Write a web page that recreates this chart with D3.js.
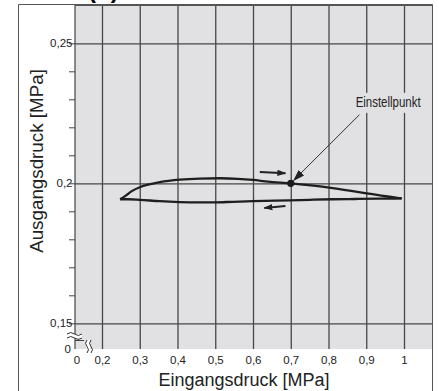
<!DOCTYPE html>
<html><head><meta charset="utf-8">
<script src="https://cdn.jsdelivr.net/npm/d3@7"></script>
<style>
html,body{margin:0;padding:0;background:#fff;}
svg{display:block;font-family:"Liberation Sans",Arial,sans-serif;}
</style></head>
<body>
<svg id="c" width="439" height="391"></svg>
<script>
// ---- data ----
const xTicks = [0.2,0.3,0.4,0.5,0.6,0.7,0.8,0.9,1.0];
const xTickLabels = ["0,2","0,3","0,4","0,5","0,6","0,7","0,8","0,9","1"];
const yTicks = [0.15,0.2,0.25];
const yTickLabels = ["0,15","0,2","0,25"];
const yMinorTicks = [0.15,0.16,0.17,0.18,0.19,0.20,0.21,0.22,0.23,0.24,0.25];
// rising input (upper branch)
const upIn  = [0.248,0.262,0.280,0.300,0.325,0.353,0.406,0.459,0.512,0.560,0.600,0.640,0.700,0.760,0.811,0.860,0.901,0.962,0.994];
const upOut = [0.1943,0.1955,0.1973,0.1986,0.1996,0.2004,0.2013,0.2017,0.2018,0.2016,0.2012,0.2006,0.2000,0.1992,0.1983,0.1973,0.1964,0.1952,0.1946];
// falling input (lower branch), listed by ascending input
const downIn  = [0.248,0.270,0.300,0.353,0.406,0.459,0.500,0.547,0.600,0.697,0.750,0.811,0.870,0.935,0.994];
const downOut = [0.1943,0.1943,0.1941,0.1936,0.1933,0.1932,0.1932,0.1934,0.1936,0.1939,0.1941,0.1943,0.1944,0.1945,0.1946];
const setPoint = {x:0.7, y:0.2, label:"Einstellpunkt"};
const xTitle = "Eingangsdruck [MPa]";
const yTitle = "Ausgangsdruck [MPa]";

// ---- layout ----
const svg = d3.select("#c");
const x = d3.scaleLinear().domain([0.2,1.0]).range([102,404]);
const y = d3.scaleLinear().domain([0.15,0.25]).range([323.3,43.3]);
const L=75, R=432, T=5, B=349;
const gridCol="#474747";

const defs = svg.append("defs");
defs.append("marker").attr("id","ah").attr("viewBox","0 0 10 10")
  .attr("refX",9).attr("refY",5).attr("markerWidth",9).attr("markerHeight",9)
  .attr("markerUnits","userSpaceOnUse").attr("orient","auto")
  .append("path").attr("d","M0,1.5 L10,5 L0,8.5 Z").attr("fill","#222");
defs.append("marker").attr("id","ah2").attr("viewBox","0 0 10 10")
  .attr("refX",9).attr("refY",5).attr("markerWidth",12).attr("markerHeight",12)
  .attr("markerUnits","userSpaceOnUse").attr("orient","auto")
  .append("path").attr("d","M0,1.8 L10,5 L0,8.2 Z").attr("fill","#222");

// title (cut off at top, as in the reference)
svg.append("text").attr("x",88).attr("y",-2).attr("font-size",24).attr("font-weight","bold").text("(b)");

// outer frame
svg.append("path").attr("d",`M18.5,391 V4.5 H432.5 V391`).attr("fill","none").attr("stroke","#555").attr("stroke-width",1);

// plot background
svg.append("rect").attr("x",L).attr("y",T).attr("width",R-L).attr("height",B-T).attr("fill","#e1e1e3");

// vertical grid via bottom axis
const gx = svg.append("g").attr("transform",`translate(0,${B})`)
  .call(d3.axisBottom(x).tickValues(xTicks).tickSize(-(B-T)).tickFormat((d,i)=>xTickLabels[i]));
gx.select(".domain").remove();
gx.selectAll("line").attr("stroke",gridCol).attr("stroke-width",1.3);
gx.selectAll("text").attr("font-size",11.5).attr("fill","#222").attr("dy",0).attr("y",14.5)
  .attr("font-family","'Liberation Sans',Arial,sans-serif");

// horizontal grid via left axis
const gy = svg.append("g").attr("transform",`translate(${L},0)`)
  .call(d3.axisLeft(y).tickValues(yTicks).tickSize(-(R-L)).tickFormat((d,i)=>yTickLabels[i]));
gy.select(".domain").remove();
gy.selectAll("line").attr("stroke",gridCol).attr("stroke-width",1.3);
gy.selectAll("text").attr("font-size",11.5).attr("fill","#222").attr("x",-2.5)
  .attr("font-family","'Liberation Sans',Arial,sans-serif");

// minor ticks outside left
const gm = svg.append("g").attr("transform",`translate(${L},0)`)
  .call(d3.axisLeft(y).tickValues(yMinorTicks).tickSize(6).tickFormat(""));
gm.select(".domain").remove();
gm.selectAll("line").attr("stroke","#444").attr("stroke-width",1);

// left axis line & top
svg.append("line").attr("x1",L).attr("x2",L).attr("y1",T).attr("y2",340).attr("stroke","#444").attr("stroke-width",1.2);
svg.append("line").attr("x1",L).attr("x2",R).attr("y1",T+0.5).attr("y2",T+0.5).attr("stroke","#555").attr("stroke-width",1.2);

// axis breaks
const wv = (x0,y0,w)=>`M${x0},${y0} q${w/4},-3 ${w/2},0 t${w/2},0`;
const br = svg.append("g");
br.append("rect").attr("x",67).attr("y",334).attr("width",15).attr("height",4).attr("fill","#fff");
br.append("path").attr("d",wv(67,334,15)).attr("fill","none").attr("stroke","#333").attr("stroke-width",1);
br.append("path").attr("d",wv(67,338,15)).attr("fill","none").attr("stroke","#333").attr("stroke-width",1);
br.append("line").attr("x1",L).attr("x2",L).attr("y1",340).attr("y2",349).attr("stroke","#444").attr("stroke-width",1.2);
br.append("line").attr("x1",L).attr("x2",84).attr("y1",340.5).attr("y2",340.5).attr("stroke","#444").attr("stroke-width",1);
const wvv = (x0,y0,h)=>`M${x0},${y0} q-3,${h/4} 0,${h/2} t0,${h/2}`;
br.append("rect").attr("x",86).attr("y",340).attr("width",4).attr("height",13).attr("fill","#fff");
br.append("path").attr("d",wvv(87,340,13)).attr("fill","none").attr("stroke","#333").attr("stroke-width",1);
br.append("path").attr("d",wvv(91,340,13)).attr("fill","none").attr("stroke","#333").attr("stroke-width",1);
svg.append("text").attr("x",71).attr("y",353).attr("text-anchor","end").attr("font-size",11.5).attr("fill","#222").text("0");
svg.append("text").attr("x",77).attr("y",363.5).attr("text-anchor","middle").attr("font-size",11.5).attr("fill","#222").text("0");

// axis titles
svg.append("text").attr("x",244).attr("y",386).attr("text-anchor","middle").attr("font-size",18).attr("fill","#222").text(xTitle);
svg.append("text").attr("transform","translate(42.5,161) rotate(-90)").attr("text-anchor","middle").attr("font-size",18.8).attr("fill","#222").text(yTitle);

// hysteresis curves
const line = d3.line().x(d=>x(d[0])).y(d=>y(d[1])).curve(d3.curveMonotoneX);
const up = upIn.map((v,i)=>[v,upOut[i]]);
const down = downIn.map((v,i)=>[v,downOut[i]]);
svg.append("path").attr("d",line(up)).attr("fill","none").attr("stroke","#1e1e1e").attr("stroke-width",2.3).attr("stroke-linejoin","round");
svg.append("path").attr("d",line(down)).attr("fill","none").attr("stroke","#1e1e1e").attr("stroke-width",2.3).attr("stroke-linejoin","round");

// direction arrows (data-space positions)
const arrUp = [[0.618,0.2040],[0.686,0.2036]];
const arrDown = [[0.686,0.1919],[0.630,0.1912]];
[arrUp,arrDown].forEach(a=>{
  svg.append("line").attr("x1",x(a[0][0])).attr("y1",y(a[0][1])).attr("x2",x(a[1][0])).attr("y2",y(a[1][1]))
    .attr("stroke","#222").attr("stroke-width",2).attr("marker-end","url(#ah)");
});

// setpoint label
const lx = x(0.958), ly = y(0.2273);
svg.append("rect").attr("x",lx-35).attr("y",ly-14).attr("width",70).attr("height",20).attr("fill","#e1e1e3");
svg.append("text").attr("x",lx).attr("y",ly).attr("text-anchor","middle").attr("font-size",14)
  .attr("textLength",65).attr("lengthAdjust","spacingAndGlyphs").attr("fill","#222").text(setPoint.label);
svg.append("line").attr("x1",x(0.882)).attr("y1",y(0.2245)).attr("x2",x(0.7)+3).attr("y2",y(0.2)-3)
  .attr("stroke","#333").attr("stroke-width",1).attr("marker-end","url(#ah2)");
svg.append("circle").attr("cx",x(setPoint.x)).attr("cy",y(setPoint.y)).attr("r",3.6).attr("fill","#1a1a1a");
</script>
</body></html>
